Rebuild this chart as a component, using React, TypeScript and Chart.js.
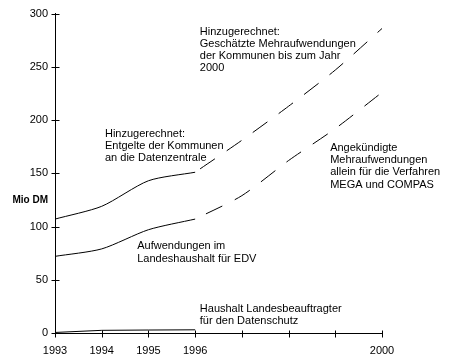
import { useEffect, useRef } from 'react';
import { Chart, registerables } from 'chart.js';

Chart.register(...registerables);

const actualYears = [1993, 1994, 1995, 1996];
const forecastYears = [1996, 1997, 1998, 1999, 2000];
const edvActual = [72, 79, 97, 107];
const kommunenActual = [107, 119, 143, 151];
const edvForecast = [107, 129, 162, 192, 226];
const kommunenForecast = [151, 181, 213, 247, 286];
const datenschutzActual = [0.5, 2.5, 2.8, 3.0];

const labeledYears = [1993, 1994, 1995, 1996, 2000];
const yearTicks = [1993, 1994, 1995, 1996, 1997, 1998, 1999, 2000];
const valueTicks = [0, 50, 100, 150, 200, 250, 300];
const yAxisLabel = 'Mio DM';

const notes = [
  { year: 1996.1, value: 283, lines: ['Hinzugerechnet:', 'Geschätzte Mehraufwendungen', 'der Kommunen bis zum Jahr', '2000'] },
  { year: 1994.07, value: 187, lines: ['Hinzugerechnet:', 'Entgelte der Kommunen', 'an die Datenzentrale'] },
  { year: 1994.76, value: 81.3, lines: ['Aufwendungen im', 'Landeshaushalt für EDV'] },
  { year: 1998.89, value: 173.8, lines: ['Angekündigte', 'Mehraufwendungen', 'allein für die Verfahren', 'MEGA und COMPAS'] },
  { year: 1996.1, value: 22.4, lines: ['Haushalt Landesbeauftragter', 'für den Datenschutz'] },
];

const FONT = 'Arial, "Liberation Sans", sans-serif';

const toPoints = (xs: number[], ys: number[]) => xs.map((x, i) => ({ x, y: ys[i] }));

const overlayPlugin = {
  id: 'overlay',
  afterDraw(chart: any) {
    const ctx = chart.ctx as CanvasRenderingContext2D;
    const xs = chart.scales.x;
    const ys = chart.scales.y;
    const area = chart.chartArea;
    ctx.save();
    ctx.strokeStyle = '#000';
    ctx.lineWidth = 1;
    ctx.beginPath();
    const axisX = Math.round(area.left) + 0.5;
    const axisY = Math.round(area.bottom) + 0.5;
    for (const v of valueTicks) {
      const py = Math.round(ys.getPixelForValue(v)) + 0.5;
      ctx.moveTo(axisX - 4, py);
      ctx.lineTo(axisX + 4, py);
    }
    for (const yr of yearTicks) {
      const px = Math.round(xs.getPixelForValue(yr)) + 0.5;
      ctx.moveTo(px, axisY - 3);
      ctx.lineTo(px, axisY + 4);
    }
    ctx.stroke();

    ctx.fillStyle = '#000';
    ctx.textBaseline = 'middle';
    ctx.textAlign = 'left';
    ctx.font = `11px ${FONT}`;
    for (const n of notes) {
      const px = xs.getPixelForValue(n.year);
      const py = ys.getPixelForValue(n.value);
      n.lines.forEach((line, i) => ctx.fillText(line, px, py + i * 12.2));
    }
    ctx.font = `bold 10px ${FONT}`;
    ctx.textAlign = 'right';
    ctx.fillText(yAxisLabel, area.left - 7, ys.getPixelForValue(124.3));
    ctx.restore();
  },
};

export default function App() {
  const ref = useRef<HTMLCanvasElement | null>(null);
  useEffect(() => {
    if (!ref.current) return;
    const lineBase = { borderColor: '#000', borderWidth: 1, pointRadius: 0, fill: false, tension: 0.25 };
    const chart = new Chart(ref.current, {
      type: 'line',
      data: {
        datasets: [
          { ...lineBase, label: 'EDV', data: toPoints(actualYears, edvActual) },
          { ...lineBase, label: 'Kommunen', data: toPoints(actualYears, kommunenActual) },
          { ...lineBase, label: 'EDV Prognose', data: toPoints(forecastYears, edvForecast), borderDash: [18, 14], borderDashOffset: 20 },
          { ...lineBase, label: 'Kommunen Prognose', data: toPoints(forecastYears, kommunenForecast), borderDash: [18, 14], borderDashOffset: 26 },
          { ...lineBase, label: 'Datenschutz', data: toPoints(actualYears, datenschutzActual), tension: 0 },
        ],
      },
      options: {
        responsive: false,
        animation: false,
        devicePixelRatio: 1,
        layout: { padding: { top: 12, right: 71, left: 0, bottom: 0 } },
        plugins: { legend: { display: false }, tooltip: { enabled: false } },
        scales: {
          x: {
            type: 'linear',
            min: 1993,
            max: 2000,
            grid: { display: false, drawTicks: false },
            border: { display: true, color: '#000', width: 1 },
            ticks: {
              stepSize: 1,
              color: '#000',
              font: { family: FONT, size: 11 },
              padding: 11,
              maxRotation: 0,
              autoSkip: false,
              callback: (v: any) => (labeledYears.includes(Number(v)) ? String(v) : ''),
            },
            afterFit: (s: any) => { s.height = 26; },
          },
          y: {
            type: 'linear',
            min: 0,
            max: 300,
            grid: { display: false, drawTicks: false },
            border: { display: true, color: '#000', width: 1 },
            ticks: {
              stepSize: 50,
              color: '#000',
              font: { family: FONT, size: 11 },
              padding: 7,
            },
            afterFit: (s: any) => { s.width = 55; },
          },
        },
      },
      plugins: [overlayPlugin],
    });
    return () => chart.destroy();
  }, []);
  return (
    <div style={{ position: 'absolute', left: 0, top: 0, width: 453, height: 359, background: '#fff' }}>
      <canvas ref={ref} width={453} height={359} />
    </div>
  );
}
